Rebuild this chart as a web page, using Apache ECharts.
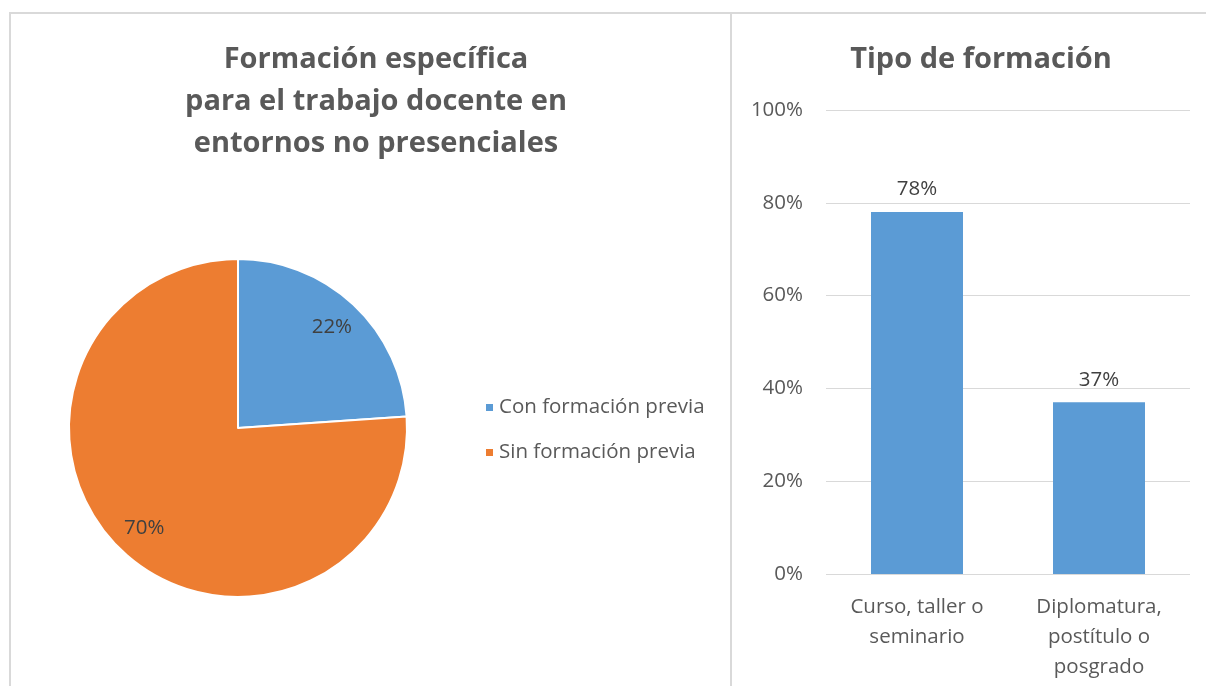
<!DOCTYPE html>
<html lang="es">
<head>
<meta charset="UTF-8">
<title>Formación docente</title>
<script src="https://cdn.jsdelivr.net/npm/echarts@6/dist/echarts.min.js"></script>
<style>
  html, body { margin: 0; padding: 0; background: #fff; }
  #main { width: 1206px; height: 686px; }
</style>
</head>
<body>
<div id="main"></div>
<script>
var pieNames = ['Con formación previa', 'Sin formación previa'];
var pieValues = [22, 70];
var pieColors = ['#5B9BD5', '#ED7D31'];

var barCats = ['Curso, taller o\nseminario', 'Diplomatura,\npostítulo o\nposgrado'];
var barValues = [78, 37];

var font = '"Open Sans", sans-serif';
var grey = '#595959';

var chart = echarts.init(document.getElementById('main'));

var pieData = pieNames.map(function (n, i) {
  return { name: n, value: pieValues[i], itemStyle: { color: pieColors[i] } };
});

chart.setOption({
  animation: false,
  textStyle: { fontFamily: font },
  title: [{
    text: 'Formación específica\npara el trabajo docente en\nentornos no presenciales',
    left: 371, top: 34, textAlign: 'center',
    textStyle: { fontFamily: font, fontSize: 29, fontWeight: 'bold', color: grey, lineHeight: 42 }
  }, {
    text: 'Tipo de formación',
    left: 976, top: 40, textAlign: 'center',
    textStyle: { fontFamily: font, fontSize: 29, fontWeight: 'bold', color: grey }
  }],
  legend: {
    orient: 'vertical',
    left: 479, top: 392,
    itemWidth: 9, itemHeight: 9, itemGap: 24,
    icon: 'rect',
    data: pieNames,
    textStyle: { fontFamily: font, fontSize: 20.5, color: grey, padding: [0, 0, 0, 0] }
  },
  grid: { left: 826, right: 16, top: 110, bottom: 112 },
  xAxis: {
    type: 'category',
    data: barCats,
    axisLine: { show: false },
    axisTick: { show: false },
    axisLabel: { fontFamily: font, fontSize: 20.5, color: grey, lineHeight: 30, margin: 18, interval: 0 }
  },
  yAxis: {
    type: 'value',
    min: 0, max: 100, interval: 20,
    axisLine: { show: false },
    axisTick: { show: false },
    splitLine: { lineStyle: { color: '#d9d9d9', width: 1 } },
    axisLabel: { fontFamily: font, fontSize: 20.5, color: grey, margin: 23, formatter: '{value}%' }
  },
  series: [{
    type: 'pie',
    center: [238, 428],
    radius: [0, 169],
    startAngle: 90,
    data: pieData,
    itemStyle: { borderColor: '#fff', borderWidth: 2 },
    label: { show: false },
    labelLine: { show: false },
    emphasis: { disabled: true }
  }, {
    // transparent ring only used to place the labels further out
    type: 'pie',
    center: [238, 428],
    radius: [100, 169],
    startAngle: 90,
    silent: true,
    legendHoverLink: false,
    data: pieData.map(function (d) {
      return { name: d.name + ' ', value: d.value, itemStyle: { color: 'rgba(0,0,0,0)' } };
    }),
    label: {
      show: true, position: 'inside',
      formatter: '{c}%',
      fontFamily: font, fontSize: 20.5, color: '#404040'
    },
    labelLine: { show: false },
    emphasis: { disabled: true }
  }, {
    type: 'bar',
    data: barValues,
    barWidth: 92,
    itemStyle: { color: '#5B9BD5' },
    label: {
      show: true, position: 'top', distance: 12,
      formatter: '{c}%',
      fontFamily: font, fontSize: 20.5, color: '#404040'
    }
  }],
  graphic: [{
    type: 'polyline',
    shape: { points: [[10, 686], [10, 13], [1206, 13]] },
    style: { stroke: '#d9d9d9', lineWidth: 2, fill: null }
  }, {
    type: 'line',
    shape: { x1: 731, y1: 13, x2: 731, y2: 686 },
    style: { stroke: '#d9d9d9', lineWidth: 2 }
  }]
});
</script>
</body>
</html>
